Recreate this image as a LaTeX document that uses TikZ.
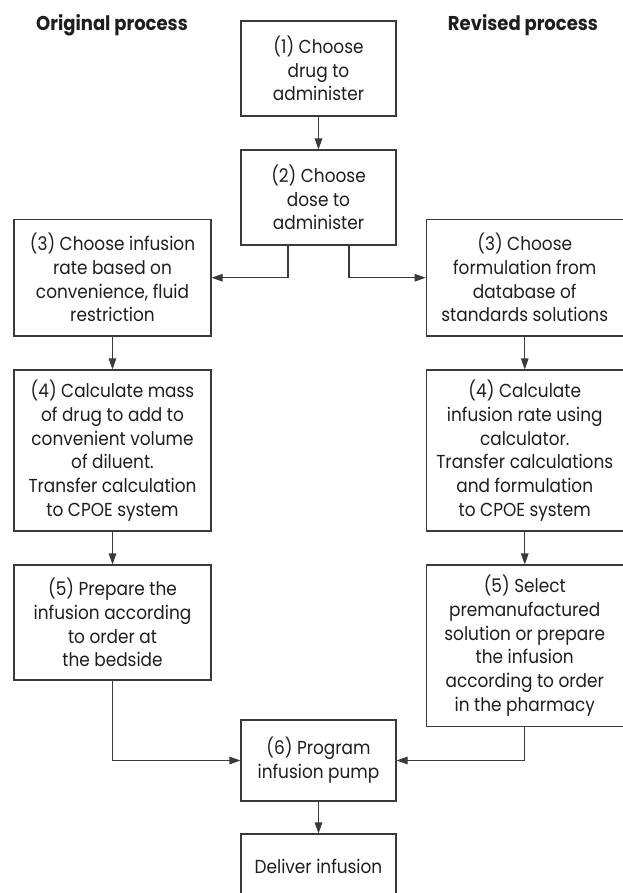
\documentclass[tikz,border=0pt]{standalone}
\usepackage{fontspec}
\setmainfont{Poppins}[FakeStretch=0.9]
\usetikzlibrary{arrows.meta}
\definecolor{linec}{HTML}{3A3A3A}
\definecolor{textc}{HTML}{1E1E1E}
\tikzset{
  box/.style={draw=linec, line width=1.1pt, align=center, inner sep=0pt, text=textc,
    font=\fontsize{18.8}{23.7}\selectfont},
  head/.style={text=textc, inner sep=0pt, font=\fontsize{20}{24}\selectfont\bfseries},
  arr/.style={draw=linec, line width=1.1pt, -{Triangle[length=11pt,width=7.5pt]}},
  wide/.style={minimum width=197pt},
  narrow/.style={minimum width=155pt}
}
\begin{document}
\begin{tikzpicture}[x=1pt,y=-1pt]
\useasboundingbox (0,0) rectangle (622,893);
\node[head, anchor=base] (h1) at (112,31) {Original process};
\node[head, anchor=base] (h2) at (523,31) {Revised process};

\node[box, narrow, minimum height=95pt] (b1) at (318.5,68.5) {(1) Choose\\drug to\\administer};
\node[box, narrow, minimum height=95pt] (b2) at (318.5,197.5) {(2) Choose\\dose to\\administer};

\node[box, wide, minimum height=116.5pt] (L3) at (112.5,277.75) {(3) Choose infusion\\rate based on\\convenience, fluid\\restriction};
\node[box, wide, minimum height=116.5pt] (R3) at (524.75,277.75) {(3) Choose\\formulation from\\database of\\standards solutions};

\node[box, wide, minimum height=161pt] (L4) at (112.5,450.5) {(4) Calculate mass\\of drug to add to\\convenient volume\\of diluent.\\Transfer calculation\\to CPOE system};
\node[box, wide, minimum height=161pt] (R4) at (524.75,450.5) {(4) Calculate\\infusion rate using\\calculator.\\Transfer calculations\\and formulation\\to CPOE system};

\node[box, wide, minimum height=115pt] (L5) at (112.5,622.5) {(5) Prepare the\\infusion according\\to order at\\the bedside};
\node[box, wide, minimum height=161.5pt] (R5) at (524.75,645.75) {(5) Select\\premanufactured\\solution or prepare\\the infusion\\according to order\\in the pharmacy};

\node[box, narrow, minimum height=81pt] (b6) at (318.5,760.5) {(6) Program\\infusion pump};
\node[box, narrow, minimum height=64pt] (D) at (318.5,866) {Deliver infusion};

\draw[arr] (b1) -- (b2);
\draw[arr] ([xshift=-30.5pt]b2.south) |- (L3.east);
\draw[arr] ([xshift=30.5pt]b2.south) |- (R3.west);
\draw[arr] (L3) -- (L4);
\draw[arr] (L4) -- (L5);
\draw[arr] (R3) -- (R4);
\draw[arr] (R4) -- (R5);
\draw[arr] (L5.south) |- (b6.west);
\draw[arr] (R5.south) |- (b6.east);
\draw[arr] (b6) -- (D);
\end{tikzpicture}
\end{document}
